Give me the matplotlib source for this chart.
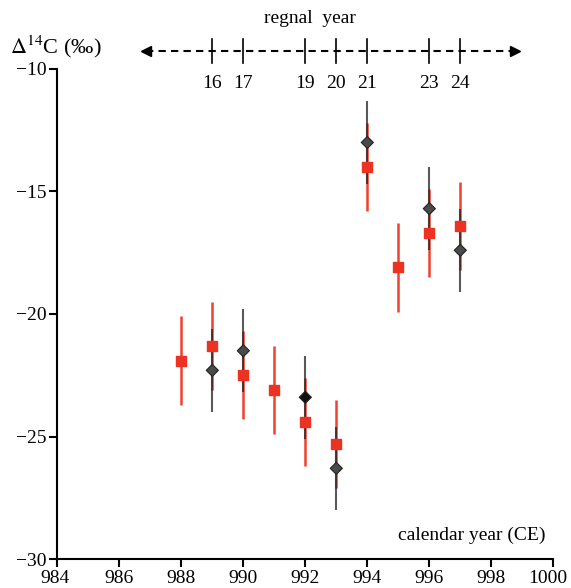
import matplotlib
matplotlib.use('Agg')
import matplotlib.pyplot as plt
import matplotlib.transforms as mtransforms

plt.rcParams['font.family'] = ['Liberation Serif', 'DejaVu Serif']
plt.rcParams['mathtext.fontset'] = 'stix'

# red squares (all years)
red_years = [988, 989, 990, 991, 992, 993, 994, 995, 996, 997]
red_vals = [-21.9, -21.3, -22.5, -23.1, -24.4, -25.3, -14.0, -18.1, -16.7, -16.4]
red_err = [1.8, 1.8, 1.8, 1.8, 1.8, 1.8, 1.8, 1.8, 1.8, 1.8]

# dark diamonds
dia_years = [989, 990, 992, 993, 994, 996, 997]
dia_vals = [-22.3, -21.5, -23.4, -26.3, -13.0, -15.7, -17.4]
dia_err = [1.7, 1.7, 1.7, 1.7, 1.7, 1.7, 1.7]
dia_face = ['#4a4a4a', '#4a4a4a', '#111111', '#4a4a4a', '#4a4a4a', '#4a4a4a', '#4a4a4a']

# regnal year scale
regnal_labels = ['16', '17', '19', '20', '21', '23', '24']
regnal_x = [989, 990, 992, 993, 994, 996, 997]

fig = plt.figure(figsize=(5.71, 5.88), dpi=100)
ax = fig.add_axes([0.1004, 0.0493, 0.8686, 0.8334])

ax.errorbar(red_years, red_vals, yerr=red_err, fmt='none', ecolor='#f0402e',
            elinewidth=1.8, capsize=0, zorder=2)
ax.errorbar(dia_years, dia_vals, yerr=dia_err, fmt='none', ecolor='#222222',
            elinewidth=1.5, capsize=0, alpha=0.75, zorder=3)
ax.scatter(red_years, red_vals, marker='s', s=58, color='#ec3323', zorder=4)
ax.scatter(dia_years, dia_vals, marker='D', s=38, color=dia_face,
           edgecolors='#222222', linewidths=0.8, zorder=5)

ax.set_xlim(984, 1000)
ax.set_ylim(-30, -10)
ax.set_xticks(range(984, 1001, 2))
ax.set_yticks([-30, -25, -20, -15, -10])
ax.set_yticklabels(['\u221230', '\u221225', '\u221220', '\u221215', '\u221210'])
for s in ['top', 'right']:
    ax.spines[s].set_visible(False)
for s in ['left', 'bottom']:
    ax.spines[s].set_linewidth(1.5)
ax.tick_params(direction='out', length=6, width=1.5, labelsize=14, pad=2)
# the top label sits a little above its tick
ax.get_yticklabels()[-1].set_y(-9.7)
# keep the last x label inside the figure
xlabs = ax.get_xticklabels()
shift = mtransforms.ScaledTranslation(-6 / 100, 0, fig.dpi_scale_trans)
xlabs[-1].set_transform(xlabs[-1].get_transform() + shift)
xlabs[0].set_transform(xlabs[0].get_transform() + mtransforms.ScaledTranslation(-2 / 100, 0, fig.dpi_scale_trans))

ax.text(999.75, -29.05, 'calendar year (CE)', ha='right', va='center', fontsize=14)
fig.text(0.017, 0.921, '$\\Delta^{14}$C (\u2030)', fontsize=16, ha='left', va='center')

# regnal year arrow above the axes
arrow_y = -9.27
ax.plot([986.85, 998.7], [arrow_y, arrow_y], color='black', lw=1.5,
        linestyle=(0, (3.5, 2.5)), clip_on=False)
ax.plot([986.85], [arrow_y], marker='<', color='black', markersize=7, clip_on=False)
ax.plot([998.75], [arrow_y], marker='>', color='black', markersize=7, clip_on=False)
for x, lab in zip(regnal_x, regnal_labels):
    ax.plot([x, x], [arrow_y + 0.5, arrow_y - 0.5], color='black', lw=1.2, clip_on=False)
    ax.text(x, -10.6, lab, ha='center', va='center', fontsize=14, clip_on=False)
ax.text(992.15, -7.95, 'regnal  year', ha='center', va='center', fontsize=14)

fig.savefig('out.png', dpi=100)
